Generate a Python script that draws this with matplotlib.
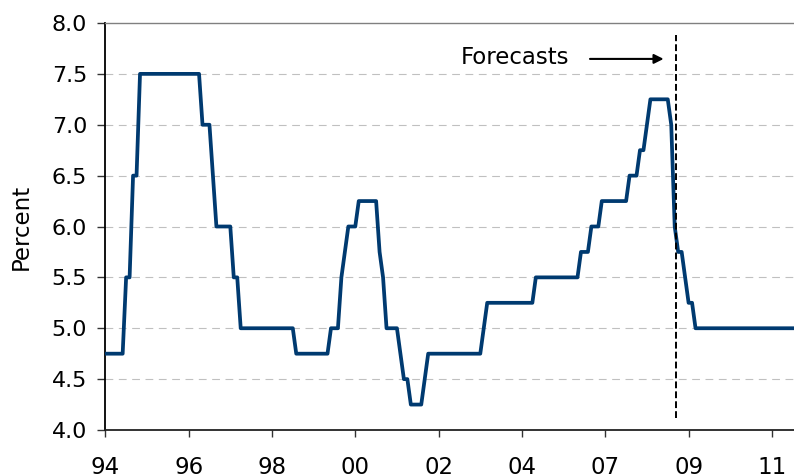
import numpy as np
import matplotlib
matplotlib.use("Agg")
import matplotlib.pyplot as plt

# ---- data (monthly observations, stored as runs of equal rate) ----
rate_levels = [4.75, 5.5, 6.5, 7.5, 7.0, 6.5, 6.0, 5.5, 5.0, 4.75,
               5.0, 5.5, 5.75, 6.0, 6.25, 5.75, 5.5, 5.0, 4.75, 4.5,
               4.25, 4.5, 4.75, 5.0, 5.25, 5.5, 5.75, 6.0, 6.25, 6.5,
               6.75, 7.0, 7.25, 7.0, 6.0, 5.75, 5.5, 5.25, 5.0]
run_lengths = [6, 2, 2, 18, 3, 1, 5, 2, 16, 10,
               3, 1, 1, 3, 6, 1, 1, 4, 1, 2,
               4, 1, 16, 1, 14, 13, 3, 3, 8, 3,
               2, 1, 6, 1, 1, 2, 1, 2, 29]

tick_labels = ["94", "96", "98", "00", "02", "04", "07", "09", "11"]
tick_step = 24          # observations between labels
forecast_start = 164.4  # index where forecasts begin
y_ticks = [4.0, 4.5, 5.0, 5.5, 6.0, 6.5, 7.0, 7.5, 8.0]

rate = np.repeat(rate_levels, run_lengths)
idx = np.arange(len(rate))

# ---- figure ----
plt.rcParams['font.family'] = ['DejaVu Sans']
fig = plt.figure(figsize=(7.94, 4.75), dpi=100)
ax = fig.add_axes([105.3 / 794, 45 / 475, 1 - 105.3 / 794, 407 / 475])

ax.plot(idx, rate, color='#003a70', linewidth=2.7, solid_joinstyle='round', zorder=3)

ax.set_xlim(0, (794 - 105.3) / 3.472)
ax.set_ylim(4.0, 8.0)

ax.set_xticks(np.arange(len(tick_labels)) * tick_step)
ax.set_xticklabels(tick_labels)
ax.set_yticks(y_ticks)
ax.set_yticklabels([f"{v:.1f}" for v in y_ticks])

ax.tick_params(axis='y', direction='out', length=6, width=1, labelsize=16, pad=7, color='#333333')
ax.tick_params(axis='x', direction='out', length=5, width=1, labelsize=16.5, pad=14, color='#333333')

# grid
for v in y_ticks[1:-1]:
    ax.axhline(v, color='#c0c0c0', linewidth=0.8, linestyle=(0, (7, 5)), zorder=1)

ax.spines['right'].set_visible(False)
ax.spines['top'].set_color('#808080')
ax.spines['top'].set_linewidth(1.0)
ax.spines['left'].set_color('black')
ax.spines['left'].set_linewidth(1.3)
ax.spines['bottom'].set_color('#222222')
ax.spines['bottom'].set_linewidth(1.3)

ax.set_ylabel("Percent", fontsize=16.5)
ax.yaxis.set_label_coords(-(105.3 - 32.5) / (794 - 105.3), 0.5)

# forecast marker
ax.axvline(forecast_start, ymin=0.03, ymax=0.97, color='black', linewidth=1.4,
           linestyle=(0, (3.5, 1.6)), zorder=4)
ax.text(133.6, 7.6, "Forecasts", fontsize=16.5, ha='right', va='baseline')
ax.annotate("", xy=(160.8, 7.647), xytext=(139.6, 7.647),
            arrowprops=dict(arrowstyle='-|>', color='black', lw=1.5,
                            mutation_scale=14, shrinkA=0, shrinkB=0))

fig.savefig("out.png", dpi=100)
